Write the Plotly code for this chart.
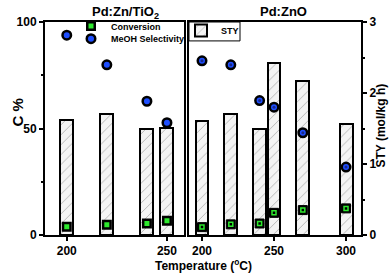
import plotly.graph_objects as go

# ---- data ----
temps_left = [200, 220, 240, 250]
sty_left = [1.62, 1.70, 1.50, 1.51]
conv_left = [3.9, 4.8, 5.4, 6.7]
sel_left = [93.8, 79.9, 62.8, 52.7]

temps_right = [200, 220, 240, 250, 270, 300]
sty_right = [1.61, 1.70, 1.50, 2.42, 2.17, 1.57]
conv_right = [3.7, 5.0, 5.4, 10.4, 11.7, 12.5]
sel_right = [81.8, 79.9, 63.1, 60.0, 48.0, 31.9]

x_ticks_left = [200, 250]
x_ticks_right = [200, 250, 300]
c_ticks = [0, 50, 100]
sty_ticks = [0, 1, 2, 3]

FONT = "Arial, Liberation Sans, sans-serif"
GREEN = "#2ee82e"
BLUE = "#1f4fff"

# pixel helpers for layout (plot area 45..361 x, 21..235 y)
L, R, T, B = 45, 361, 21, 235
def px(x):
    return (x - L) / (R - L)
def py(y):
    return (B - y) / (B - T)

pattern = dict(shape="/", fgcolor="#666666", bgcolor="#f4f4f4", size=7, solidity=0.12)

fig = go.Figure()

# bars (STY) on base axis "y" (STY, right side)
fig.add_trace(go.Bar(x=temps_left, y=sty_left, xaxis="x", yaxis="y", width=6.5,
                     marker=dict(color="#f4f4f4", pattern=pattern, line=dict(color="black", width=2)),
                     showlegend=False, name="STY"))
fig.add_trace(go.Bar(x=temps_right, y=sty_right, xaxis="x2", yaxis="y", width=9,
                     marker=dict(color="#f4f4f4", pattern=pattern, line=dict(color="black", width=2)),
                     name="STY", legend="legend2"))

# markers (C %) on overlaying axis "y2" so they draw above the bars
fig.add_trace(go.Scatter(x=temps_left, y=conv_left, xaxis="x", yaxis="y2", mode="markers",
                         marker=dict(symbol="square", size=7.5, color=GREEN, line=dict(color="black", width=2.5)),
                         name="Conversion", legend="legend"))
fig.add_trace(go.Scatter(x=temps_left, y=sel_left, xaxis="x", yaxis="y2", mode="markers",
                         marker=dict(symbol="circle", size=8.5, color=BLUE, line=dict(color="black", width=2.5)),
                         name="MeOH Selectivity", legend="legend3"))

fig.add_trace(go.Scatter(x=temps_right, y=conv_right, xaxis="x2", yaxis="y2", mode="markers",
                         marker=dict(symbol="square", size=9, color="black", line=dict(color="black", width=1)),
                         showlegend=False))
fig.add_trace(go.Scatter(x=temps_right, y=conv_right, xaxis="x2", yaxis="y2", mode="markers",
                         marker=dict(symbol="square-open", size=4, color=GREEN, line=dict(color=GREEN, width=1.5)),
                         showlegend=False))
fig.add_trace(go.Scatter(x=temps_right, y=sel_right, xaxis="x2", yaxis="y2", mode="markers",
                         marker=dict(symbol="circle", size=8.5, color=BLUE, line=dict(color="black", width=2.5)),
                         showlegend=False))
fig.add_trace(go.Scatter(x=temps_right, y=sel_right, xaxis="x2", yaxis="y2", mode="markers",
                         marker=dict(symbol="circle", size=3, color="#1a2a8a"),
                         showlegend=False))

tickfont = dict(family=FONT, size=12, color="black", weight="bold")
axis_common = dict(showline=True, linecolor="black", linewidth=2, showgrid=False, zeroline=False,
                   ticks="outside", ticklen=4, tickwidth=1.5, tickcolor="black", tickfont=tickfont,
                   automargin=False)
legfont = dict(family=FONT, size=9, color="black", weight="bold")

fig.update_layout(
    width=392, height=278,
    margin=dict(l=L, r=392 - R, t=T, b=278 - B),
    paper_bgcolor="white", plot_bgcolor="white",
    bargap=0, barmode="overlay",
    xaxis=dict(domain=[0, px(184)], range=[189.15, 258.5], tickvals=x_ticks_left, anchor="y2",
               mirror=True, **axis_common),
    xaxis2=dict(domain=[px(189), 1], range=[190.97, 310.4], tickvals=x_ticks_right, anchor="y",
                mirror=True, **axis_common),
    yaxis=dict(domain=[0, 1], range=[0, 3], tickvals=sty_ticks, anchor="x2", side="right",
               mirror=True,
               minor=dict(dtick=0.5, ticks="outside", ticklen=2, tickcolor="black"), **axis_common),
    yaxis2=dict(domain=[0, 1], range=[0, 100], tickvals=c_ticks, anchor="x", side="left",
                overlaying="y", mirror=True,
                minor=dict(dtick=25, ticks="outside", ticklen=2, tickcolor="black"), **axis_common),
    legend=dict(x=px(71), y=py(26), xanchor="left", yanchor="middle", bgcolor="rgba(0,0,0,0)",
                font=legfont, borderwidth=0),
    legend3=dict(x=px(71), y=py(38.7), xanchor="left", yanchor="middle", bgcolor="rgba(0,0,0,0)",
                 font=legfont, borderwidth=0),
    legend2=dict(x=px(181), y=py(30.5), xanchor="left", yanchor="middle", bgcolor="rgba(0,0,0,0)",
                 font=legfont, borderwidth=0),
    shapes=[
        dict(type="rect", xref="paper", yref="paper", x0=px(189), x1=px(240), y0=py(40), y1=1,
             line=dict(color="black", width=1), fillcolor="rgba(0,0,0,0)", layer="above"),
    ],
    annotations=[
        dict(text="Pd:Zn/TiO<sub>2</sub>", x=px(125), y=py(11), xref="paper", yref="paper",
             showarrow=False, xanchor="center", yanchor="middle",
             font=dict(family=FONT, size=13, color="black", weight="bold")),
        dict(text="Pd:ZnO", x=px(283), y=py(10), xref="paper", yref="paper",
             showarrow=False, xanchor="center", yanchor="middle",
             font=dict(family=FONT, size=13, color="black", weight="bold")),
        dict(text="C %", x=px(18), y=py(112), xref="paper", yref="paper", textangle=-90,
             showarrow=False, xanchor="center", yanchor="middle",
             font=dict(family=FONT, size=15, color="black", weight="bold")),
        dict(text="STY (mol/kg h)", x=px(381), y=py(125), xref="paper", yref="paper",
             textangle=-90, showarrow=False, xanchor="center", yanchor="middle",
             font=dict(family=FONT, size=12, color="black", weight="bold")),
        dict(text="Temperature (<sup>o</sup>C)", x=px(203), y=py(265), xref="paper",
             yref="paper", showarrow=False, xanchor="center", yanchor="middle",
             font=dict(family=FONT, size=12, color="black", weight="bold")),
    ],
)

fig.write_html("out.html", config={"displayModeBar": False},
               post_script="document.body.style.margin='0px';document.body.style.padding='0px';")
